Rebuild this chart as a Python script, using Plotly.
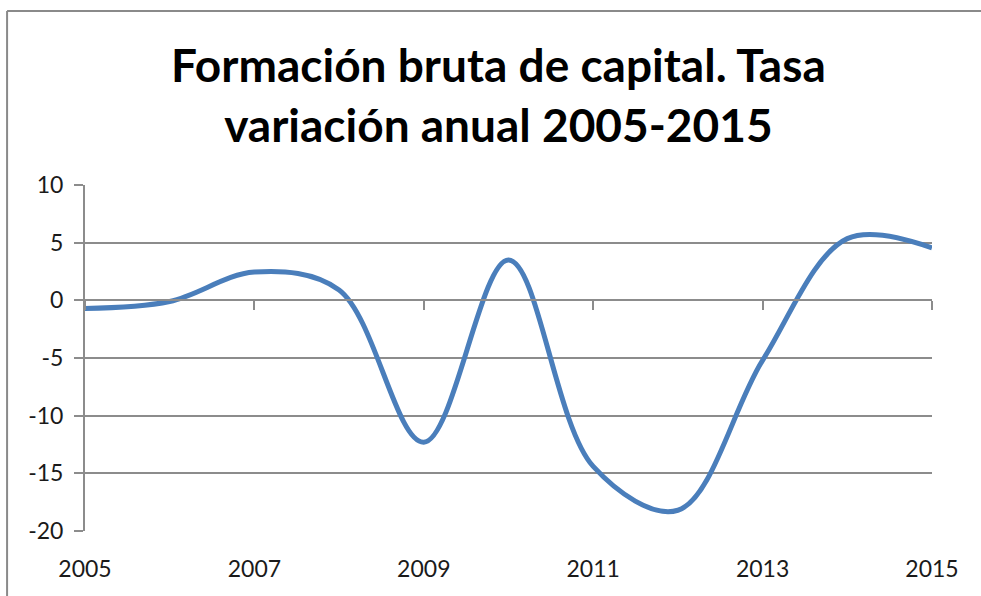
import plotly.graph_objects as go

# Tasa de variación anual (%) de la formación bruta de capital
years = [2005, 2006, 2007, 2008, 2009, 2010, 2011, 2012, 2013, 2014, 2015]
tasa = [-0.7, -0.1, 2.45, 0.9, -12.3, 3.5, -14.4, -18.2, -5.2, 5.35, 4.55]

y_ticks = [10, 5, 0, -5, -10, -15, -20]
y_text = ['10', '5', '0', '-5', '-10', '-15', '-20']
x_ticks = [2005, 2007, 2009, 2011, 2013, 2015]

_LINE = '#4A7EBB'
_GRID = '#8C8C8C'
_TXT = '#1A1A1A'
_BORDER = dict(color='#8A8A8A', width=2)

fig = go.Figure()
fig.add_trace(go.Scatter(
    x=years, y=tasa, mode='lines',
    line=dict(color=_LINE, width=5, shape='spline', smoothing=1.0),
    showlegend=False, hoverinfo='skip',
))
# traza invisible para que se dibuje el eje de categorías en el cero
fig.add_trace(go.Scatter(
    x=years, y=tasa, xaxis='x2', mode='lines', opacity=0,
    line=dict(width=0), showlegend=False, hoverinfo='skip',
))

fig.update_layout(
    margin=dict(l=85, r=49, t=185, b=65),
    paper_bgcolor='white', plot_bgcolor='white',
    font=dict(family='Lato', size=23, color=_TXT),
    title=dict(text='Formación bruta de capital. Tasa<br>variación anual 2005-2015',
               font=dict(family='Lato', size=46, color='black', weight='bold'),
               x=0.508, xanchor='center', y=0.862, yanchor='middle'),
    showlegend=False,
    # borde del área del gráfico (sólo se ven el lado superior e izquierdo)
    shapes=[dict(type='line', xref='paper', yref='paper',
                 x0=-0.092, x1=1.06, y0=1.503, y1=1.503, line=_BORDER),
            dict(type='line', xref='paper', yref='paper',
                 x0=-0.092, x1=-0.092, y0=-0.19, y1=1.503, line=_BORDER)],
)

# eje de categorías: etiquetas abajo, línea del eje en el cero
fig.update_xaxes(range=[2005, 2015], tickvals=x_ticks,
                 ticks='outside', ticklen=17, tickcolor='rgba(0,0,0,0)',
                 showgrid=False, zeroline=False, showline=False)
fig.update_layout(xaxis2=dict(
    overlaying='x', matches='x', anchor='free', position=2 / 3,
    range=[2005, 2015], tickvals=x_ticks, showticklabels=False,
    ticks='outside', ticklen=9, tickwidth=2, tickcolor=_GRID,
    showline=True, linecolor=_GRID, linewidth=2, showgrid=False,
    zeroline=False,
))
fig.update_yaxes(range=[-20, 10], tickvals=y_ticks, ticktext=y_text,
                 ticks='outside', ticklen=9, tickwidth=2, tickcolor=_GRID,
                 showline=True, linecolor=_GRID, linewidth=2,
                 gridcolor=_GRID, gridwidth=2, zeroline=False,
                 ticklabelstandoff=6)

# div fijo en la esquina de la ventana: sin margen del body ni barras de desplazamiento
fig.write_html('out.html', config=dict(displayModeBar=False),
               default_width='981px;position:fixed;left:0;top:0',
               default_height='596px',
               post_script="document.body.style.margin='0';"
                           "document.body.style.overflow='hidden';")
